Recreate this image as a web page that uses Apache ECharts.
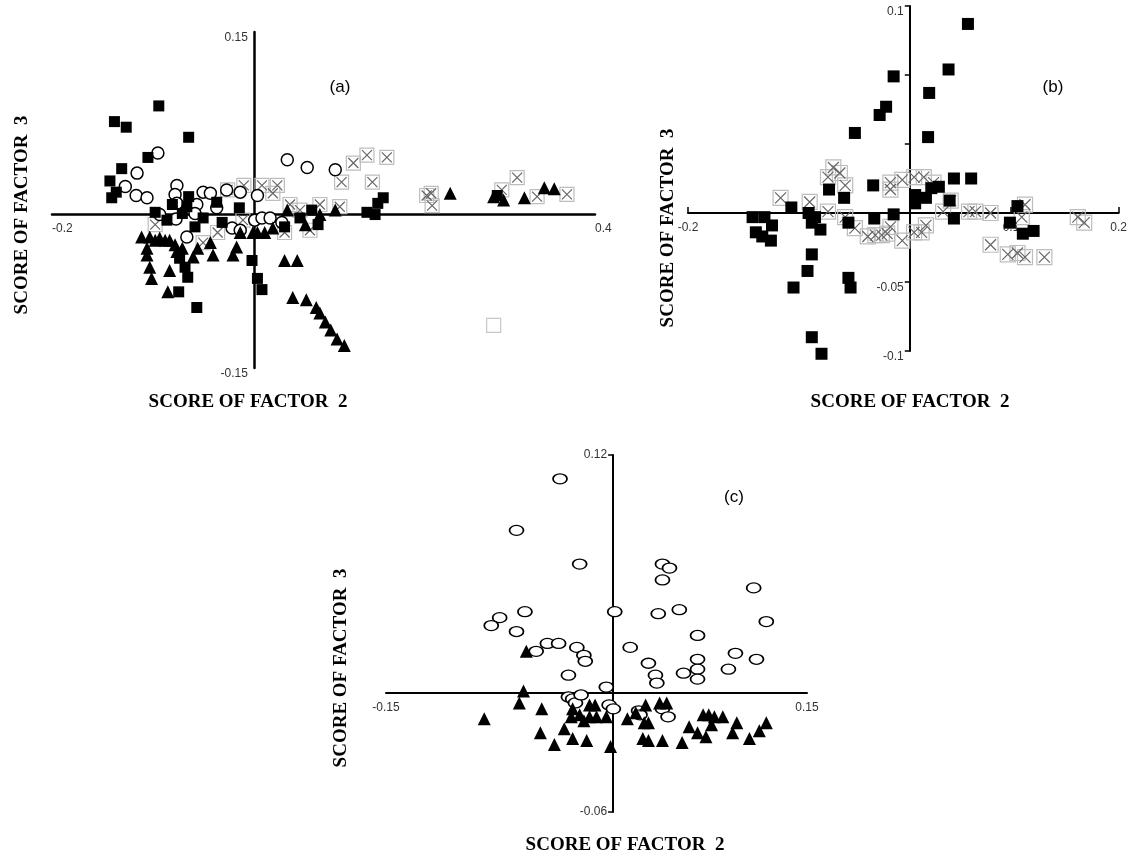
<!DOCTYPE html>
<html>
<head>
<meta charset="utf-8">
<script src="https://cdn.jsdelivr.net/npm/echarts@6/dist/echarts.min.js"></script>
<style>
  html, body { margin: 0; padding: 0; background: #fff; }
  #chart { width: 1130px; height: 858px; }
</style>
</head>
<body>
<div id="chart"></div>
<script>
// ---- panel (a): factor 2 (x) vs factor 3 (y) ----
var squaresA = [[-0.082,0.084],[-0.131,0.070],[-0.118,0.065],[-0.049,0.056],[-0.094,0.038],[-0.123,0.028],[-0.136,0.017],[-0.129,0.007],[-0.134,0.002],[-0.049,0.003],[-0.018,-0.002],[0.007,-0.007],[-0.073,-0.018],[-0.056,-0.012],[-0.051,-0.006],[-0.033,-0.016],[-0.042,-0.024],[-0.012,-0.020],[-0.059,-0.052],[-0.053,-0.060],[-0.050,-0.069],[-0.060,-0.082],[-0.040,-0.096],[0.021,-0.054],[0.027,-0.070],[0.032,-0.080],[0.057,-0.024],[0.074,-0.016],[0.094,-0.022],[0.087,-0.009],[0.148,-0.011],[0.157,-0.013],[0.160,-0.003],[0.166,0.002],[0.292,0.004],[-0.067,-0.004],[-0.086,-0.011]];
var circlesA = [[-0.083,0.042],[-0.106,0.024],[-0.119,0.012],[-0.107,0.004],[-0.095,0.002],[-0.062,0.013],[-0.064,0.005],[-0.033,0.007],[-0.025,0.006],[0.008,0.007],[0.027,0.004],[0.060,0.036],[0.082,0.029],[0.113,0.027],[-0.062,-0.003],[-0.040,-0.004],[-0.018,-0.007],[-0.081,-0.013],[-0.063,-0.017],[-0.042,-0.012],[-0.051,-0.033],[-0.001,-0.025],[0.008,-0.027],[0.024,-0.018],[0.032,-0.016],[0.041,-0.016],[0.054,-0.020],[-0.007,0.009]];
var crossedA = [[0.032,0.013],[0.049,0.013],[0.120,0.016],[0.133,0.033],[0.148,0.040],[0.170,0.038],[0.154,0.016],[0.214,0.004],[0.219,0.006],[0.220,-0.005],[0.297,0.009],[0.314,0.020],[0.336,0.003],[0.369,0.005],[0.044,0.006],[-0.086,-0.022],[-0.033,-0.038],[-0.017,-0.029],[0.011,-0.018],[0.057,-0.029],[0.074,-0.009],[0.096,-0.004],[0.118,-0.006],[0.063,-0.004],[-0.006,0.009],[0.012,0.013],[0.085,-0.027]];
var trianglesA = [[-0.101,-0.033],[-0.092,-0.033],[-0.086,-0.036],[-0.081,-0.034],[-0.075,-0.036],[-0.070,-0.036],[-0.095,-0.043],[-0.095,-0.049],[-0.092,-0.060],[-0.090,-0.070],[-0.070,-0.063],[-0.072,-0.082],[-0.056,-0.043],[-0.062,-0.046],[-0.044,-0.051],[-0.025,-0.038],[-0.022,-0.049],[0.000,-0.049],[0.004,-0.042],[0.008,-0.029],[0.022,-0.029],[0.027,-0.029],[0.035,-0.029],[0.044,-0.025],[0.060,-0.009],[0.057,-0.054],[0.071,-0.054],[0.066,-0.087],[0.081,-0.089],[0.092,-0.096],[0.096,-0.101],[0.102,-0.109],[0.108,-0.116],[0.115,-0.124],[0.123,-0.130],[0.240,0.006],[0.288,0.003],[0.299,0.000],[0.322,0.002],[0.344,0.011],[0.355,0.010],[0.080,-0.022],[0.096,-0.013],[0.113,-0.009],[-0.064,-0.040],[-0.039,-0.043]];
var openSquareA = [[0.288,-0.112]];

// ---- panel (b) ----
var squaresB = [[0.060,0.137],[0.042,0.104],[0.024,0.087],[-0.009,0.099],[-0.016,0.077],[-0.022,0.071],[0.023,0.055],[0.047,0.025],[0.063,0.025],[-0.045,0.058],[-0.069,0.017],[-0.028,0.020],[-0.055,0.011],[-0.104,0.004],[-0.140,-0.003],[-0.129,-0.003],[-0.122,-0.009],[-0.137,-0.014],[-0.131,-0.017],[-0.123,-0.020],[-0.088,0.000],[-0.085,-0.007],[-0.077,-0.012],[-0.082,-0.003],[-0.051,-0.007],[-0.027,-0.004],[-0.085,-0.030],[-0.089,-0.042],[-0.102,-0.054],[-0.051,-0.047],[-0.049,-0.054],[-0.085,-0.090],[-0.076,-0.102],[0.026,0.018],[0.033,0.019],[0.021,0.011],[0.011,0.013],[0.011,0.007],[0.043,0.009],[0.047,-0.004],[-0.009,-0.001],[0.106,0.005],[0.099,-0.007],[0.111,-0.015],[0.121,-0.013]];
var crossedB = [[-0.065,0.033],[-0.059,0.029],[-0.054,0.020],[-0.012,0.022],[-0.114,0.011],[-0.087,0.008],[-0.070,0.001],[-0.054,-0.003],[-0.045,-0.011],[-0.033,-0.017],[-0.026,-0.016],[-0.012,0.017],[-0.001,0.024],[0.010,0.026],[0.019,0.026],[0.028,0.022],[0.044,0.009],[0.037,0.001],[0.061,0.001],[0.067,0.001],[0.081,0.000],[0.110,-0.003],[0.113,0.006],[0.081,-0.023],[0.097,-0.030],[0.106,-0.029],[0.113,-0.032],[0.131,-0.032],[0.162,-0.003],[0.168,-0.007],[-0.015,-0.015],[-0.001,-0.020],[0.010,-0.014],[0.017,-0.014],[0.021,-0.009],[-0.012,-0.010],[-0.020,-0.016],[-0.070,0.026]];

// ---- panel (c) ----
var circlesC = [[-0.026,0.108],[-0.057,0.082],[-0.012,0.065],[-0.051,0.041],[-0.069,0.038],[-0.075,0.034],[-0.057,0.031],[-0.035,0.025],[-0.027,0.025],[-0.014,0.023],[0.013,0.041],[0.047,0.065],[0.052,0.063],[0.047,0.057],[0.112,0.053],[0.044,0.040],[0.059,0.042],[0.121,0.036],[0.072,0.029],[0.024,0.023],[-0.043,0.021],[-0.009,0.019],[-0.008,0.016],[-0.020,0.009],[0.007,0.003],[0.037,0.015],[0.042,0.009],[0.043,0.005],[0.062,0.010],[0.072,0.017],[0.072,0.012],[0.072,0.007],[0.094,0.012],[0.099,0.020],[0.114,0.017],[-0.020,-0.002],[-0.017,-0.003],[-0.015,-0.005],[-0.011,-0.001],[0.009,-0.006],[0.012,-0.008],[0.030,-0.009],[0.031,-0.011],[0.047,-0.008],[0.051,-0.012]];
var trianglesC = [[-0.050,0.021],[-0.052,0.001],[-0.055,-0.005],[-0.080,-0.013],[-0.039,-0.008],[-0.040,-0.020],[-0.030,-0.026],[-0.023,-0.018],[-0.017,-0.023],[-0.007,-0.024],[0.010,-0.027],[-0.017,-0.008],[-0.018,-0.012],[-0.012,-0.011],[-0.009,-0.014],[-0.005,-0.006],[-0.001,-0.006],[-0.005,-0.012],[0.000,-0.012],[0.007,-0.012],[0.022,-0.013],[0.028,-0.010],[0.035,-0.006],[0.034,-0.015],[0.037,-0.015],[0.033,-0.023],[0.037,-0.024],[0.047,-0.024],[0.045,-0.005],[0.050,-0.005],[0.061,-0.025],[0.066,-0.017],[0.072,-0.020],[0.076,-0.011],[0.080,-0.011],[0.078,-0.022],[0.082,-0.016],[0.084,-0.012],[0.090,-0.012],[0.097,-0.020],[0.100,-0.015],[0.109,-0.023],[0.116,-0.019],[0.121,-0.015]];

// axis ranges, labelled ticks and where the two axes cross
var xRangeA = [-0.2, 0.4], yRangeA = [-0.15, 0.15], crossA = [0.023, -0.0125];
var xRangeB = [-0.2, 0.2], yRangeB = [-0.1, 0.15], crossB = [0.003, 0];
var xRangeC = [-0.15, 0.15], yRangeC = [-0.06, 0.12], crossC = [0.0118, 0];
var xLabelsA = [-0.2, 0.4], yLabelsA = [0.15, -0.15];
var xLabelsB = [-0.2, 0.1, 0.2], yLabelsB = [0.15, -0.05, -0.1];
var xLabelsC = [-0.15, 0.15], yLabelsC = [0.12, -0.06];
var xTicksB = [-0.2, -0.1, 0.1, 0.2], yTicksB = [0.15, 0.1, 0.05, -0.05, -0.1];
var yTicksC = [0.12, -0.06];
// the top tick of (b) is printed as "0.1" in the original figure
var yLabelTextB = { '0.15': '0.1' };

var panels = [
  { grid: { left: 52, top: 32, width: 543, height: 336 }, xr: xRangeA, yr: yRangeA, cross: crossA,
    xl: xLabelsA, yl: yLabelsA, xt: [], yt: [], lw: 2.5, alignEnds: true, yVAlign: 'top' },
  { grid: { left: 688, top: 6, width: 437, height: 345 }, xr: xRangeB, yr: yRangeB, cross: crossB,
    xl: xLabelsB, yl: yLabelsB, xt: xTicksB, yt: yTicksB, lw: 2, yText: yLabelTextB, yVAlign: 'top' },
  { grid: { left: 386, top: 455, width: 421, height: 357 }, xr: xRangeC, yr: yRangeC, cross: crossC,
    xl: xLabelsC, yl: yLabelsC, xt: [], yt: yTicksC, lw: 2, yVAlign: 'middle' }
];

var labelFont = { fontFamily: 'Liberation Sans', fontSize: 12, color: '#333' };

var xAxes = panels.map(function (p, i) {
  var g = p.grid;
  return {
    gridIndex: i, type: 'value', min: p.xr[0], max: p.xr[1],
    position: 'bottom',
    offset: -((p.cross[1] - p.yr[0]) / (p.yr[1] - p.yr[0])) * g.height,
    axisLine: { onZero: false, lineStyle: { color: '#000', width: p.lw } },
    axisTick: { show: p.xt.length > 0, inside: true, length: 6, customValues: p.xt,
      lineStyle: { color: '#000', width: 1.5 } },
    axisLabel: Object.assign({ customValues: p.xl, margin: 9,
      alignMinLabel: p.alignEnds ? 'left' : null, alignMaxLabel: p.alignEnds ? 'left' : null,
      formatter: function (v) { return String(v); } }, labelFont),
    splitLine: { show: false }
  };
});

var yAxes = panels.map(function (p, i) {
  var g = p.grid;
  return {
    gridIndex: i, type: 'value', min: p.yr[0], max: p.yr[1],
    position: 'left',
    offset: -((p.cross[0] - p.xr[0]) / (p.xr[1] - p.xr[0])) * g.width,
    axisLine: { onZero: false, lineStyle: { color: '#000', width: p.lw } },
    axisTick: { show: p.yt.length > 0, length: 5, customValues: p.yt,
      lineStyle: { color: '#000', width: 1.5 } },
    axisLabel: Object.assign({ customValues: p.yl, margin: 6, verticalAlign: p.yVAlign,
      formatter: function (v) {
        var key = String(v);
        return p.yText && p.yText[key] ? p.yText[key] : key;
      } }, labelFont),
    splitLine: { show: false }
  };
});

var CROSS_PATH = 'path://M0,0L10,10M10,0L0,10';
var ELLIPSE_PATH = 'path://M0,5A7,5 0 1 1 14,5A7,5 0 1 1 0,5Z';

function scatter(gi, data, symbol, size, style, z) {
  return {
    type: 'scatter', xAxisIndex: gi, yAxisIndex: gi, data: data,
    symbol: symbol, symbolSize: size, itemStyle: Object.assign({ opacity: 1 }, style), z: z,
    silent: true, clip: false, emphasis: { disabled: true }
  };
}

var boxStyle = { color: 'rgba(255,255,255,0)', borderColor: '#bdbdbd', borderWidth: 1.2 };
var xStyle = { color: 'rgba(0,0,0,0)', borderColor: '#666', borderWidth: 1.2 };
var blackFill = { color: '#000' };
var openCircle = { color: '#fff', borderColor: '#000', borderWidth: 1.5 };

var series = [
  scatter(0, crossedA, 'rect', 14, boxStyle, 3),
  scatter(0, crossedA, CROSS_PATH, 10, xStyle, 3),
  scatter(0, circlesA, 'circle', 12, openCircle, 4),
  scatter(0, squaresA, 'rect', 11, blackFill, 5),
  scatter(0, trianglesA, 'triangle', 13, blackFill, 6),
  scatter(0, openSquareA, 'rect', 14, { color: '#fff', borderColor: '#c8c8c8', borderWidth: 1.2 }, 3),

  scatter(1, crossedB, 'rect', 15, boxStyle, 3),
  scatter(1, crossedB, CROSS_PATH, 11, xStyle, 3),
  scatter(1, squaresB, 'rect', 12, blackFill, 5),

  scatter(2, circlesC, ELLIPSE_PATH, [14, 10], openCircle, 4),
  scatter(2, trianglesC, 'triangle', 13, blackFill, 5)
];

var titleFont = 'bold 19px "Liberation Serif"';
var panelFont = '17px "Liberation Sans"';
function text(str, x, y, font, rot) {
  return { type: 'text', x: x, y: y, rotation: rot || 0, silent: true,
    style: { text: str, font: font, fill: '#000', align: 'center', verticalAlign: 'middle' } };
}

var option = {
  animation: false,
  backgroundColor: '#fff',
  grid: panels.map(function (p) { return p.grid; }),
  xAxis: xAxes,
  yAxis: yAxes,
  series: series,
  graphic: [
    text('SCORE OF FACTOR  2', 248, 402, titleFont),
    text('SCORE OF FACTOR  2', 910, 402, titleFont),
    text('SCORE OF FACTOR  2', 625, 845, titleFont),
    text('SCORE OF FACTOR  3', 22, 215, titleFont, Math.PI / 2),
    text('SCORE OF FACTOR  3', 668, 228, titleFont, Math.PI / 2),
    text('SCORE OF FACTOR  3', 341, 668, titleFont, Math.PI / 2),
    text('(a)', 340, 87, panelFont),
    text('(b)', 1053, 87, panelFont),
    text('(c)', 734, 497, panelFont)
  ]
};

var chart = echarts.init(document.getElementById('chart'), null, { renderer: 'canvas' });
chart.setOption(option);
</script>
</body>
</html>
